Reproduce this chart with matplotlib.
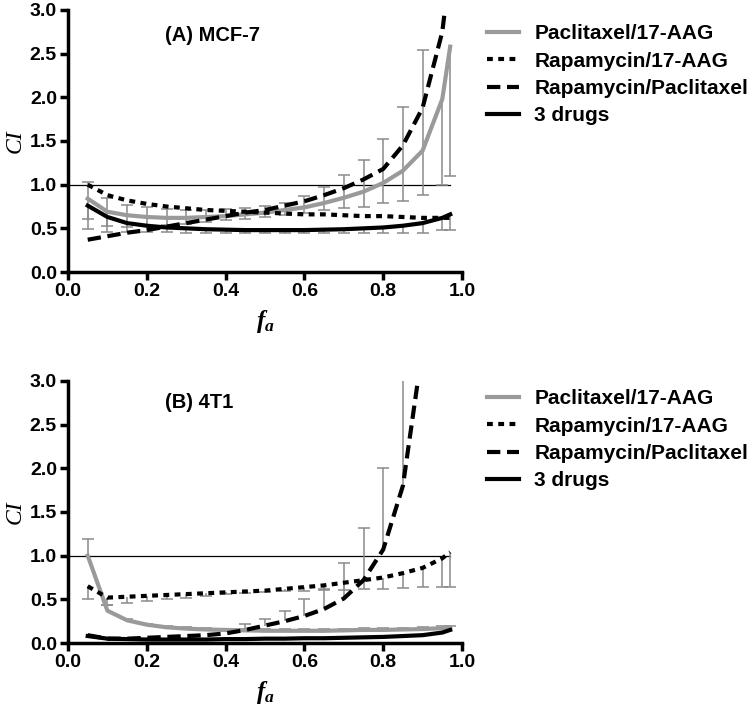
import numpy as np
import matplotlib
matplotlib.use('Agg')
import matplotlib.pyplot as plt

nan = np.nan

# fraction affected (x positions of all series)
fa = [0.05, 0.10, 0.15, 0.20, 0.25, 0.30, 0.35, 0.40, 0.45, 0.50,
      0.55, 0.60, 0.65, 0.70, 0.75, 0.80, 0.85, 0.90, 0.95, 0.97]

labels = ['Paclitaxel/17-AAG', 'Rapamycin/17-AAG', 'Rapamycin/Paclitaxel', '3 drugs']

# (A) MCF-7
a_pac17 = [0.84, 0.69, 0.65, 0.63, 0.62, 0.62, 0.63, 0.64, 0.66, 0.68,
           0.71, 0.74, 0.79, 0.85, 0.92, 1.02, 1.16, 1.39, 1.98, 2.58]
a_pac17_hi = [1.03, 0.85, 0.77, 0.74, 0.72, 0.71, 0.71, 0.72, 0.73, 0.76,
              0.79, 0.87, 0.97, 1.11, 1.28, 1.52, 1.89, 2.54, nan, nan]
a_pac17_lo = [0.61, 0.53, 0.52, 0.53, 0.54, 0.55, 0.57, 0.59, 0.61, 0.63,
              0.65, 0.68, 0.71, 0.73, 0.75, 0.79, 0.81, 0.88, 1.00, 1.10]
a_rap17 = [1.00, 0.88, 0.82, 0.78, 0.75, 0.73, 0.71, 0.70, 0.69, 0.68,
           0.67, 0.66, 0.66, 0.65, 0.64, 0.64, 0.63, 0.62, 0.62, 0.62]
a_rappac = [0.37, 0.41, 0.45, 0.48, 0.52, 0.56, 0.60, 0.64, 0.68, 0.71,
            0.76, 0.81, 0.88, 0.96, 1.06, 1.18, 1.45, 1.88, 2.75, 3.50]
a_3drug = [0.76, 0.63, 0.56, 0.53, 0.51, 0.50, 0.49, 0.485, 0.48, 0.48,
           0.48, 0.48, 0.485, 0.49, 0.50, 0.51, 0.53, 0.56, 0.62, 0.66]
a_3drug_lo = [0.49, 0.46, 0.46, 0.46, 0.46, 0.45, 0.45, 0.45, 0.45, 0.45,
              0.45, 0.45, 0.45, 0.45, 0.45, 0.45, 0.45, 0.45, 0.48, 0.48]

# (B) 4T1
b_pac17 = [1.00, 0.37, 0.26, 0.21, 0.18, 0.165, 0.155, 0.15, 0.145, 0.14,
           0.14, 0.14, 0.14, 0.145, 0.15, 0.15, 0.155, 0.16, 0.17, 0.18]
b_pac17_hi = [1.19, 0.43, 0.28, 0.22, 0.19, 0.18, 0.17, 0.16, 0.16, 0.16,
              0.16, 0.16, 0.16, 0.16, 0.17, 0.17, 0.17, 0.18, 0.19, 0.20]
b_rap17 = [0.65, 0.52, 0.53, 0.54, 0.55, 0.56, 0.57, 0.58, 0.59, 0.60,
           0.62, 0.64, 0.66, 0.69, 0.72, 0.75, 0.80, 0.86, 0.97, 1.04]
b_rap17_lo = [0.50, 0.44, 0.46, 0.48, 0.50, 0.52, 0.54, 0.56, 0.57, 0.58,
              0.59, 0.60, 0.61, 0.61, 0.62, 0.62, 0.63, 0.64, 0.64, 0.64]
b_rappac = [0.09, 0.05, 0.05, 0.06, 0.07, 0.08, 0.09, 0.11, 0.15, 0.20,
            0.25, 0.31, 0.39, 0.51, 0.72, 1.07, 1.80, 3.38, 6.00, 8.00]
b_rappac_hi = [nan, nan, nan, nan, nan, nan, nan, nan, 0.22, 0.28,
               0.37, 0.50, 0.62, 0.92, 1.32, 2.00, 5.00, nan, nan, nan]
b_3drug = [0.08, 0.05, 0.045, 0.04, 0.04, 0.04, 0.04, 0.045, 0.045, 0.05,
           0.05, 0.055, 0.055, 0.06, 0.065, 0.07, 0.08, 0.09, 0.12, 0.15]

plt.rcParams['font.family'] = ['Liberation Sans', 'DejaVu Sans']
plt.rcParams['font.weight'] = 'bold'
plt.rcParams['mathtext.fontset'] = 'custom'
plt.rcParams['mathtext.it'] = 'Liberation Serif:italic'
plt.rcParams['mathtext.rm'] = 'Liberation Serif'

GRAY = '#9a9a9a'
ERR = '#8a8a8a'


def err_bars(ax, x, y, ends):
    # one-sided error bars drawn from the curve to the given end value
    x = np.asarray(x)
    y = np.asarray(y, dtype=float)
    ends = np.asarray(ends, dtype=float)
    ok = ~np.isnan(ends)
    ax.vlines(x[ok], y[ok], ends[ok], color=ERR, lw=1.1, zorder=2)
    ax.plot(x[ok], ends[ok], ls='none', marker='_', ms=9, mew=1.1, color=ERR, zorder=2)


def draw_panel(ax, title, title_y, pac17, rap17, rappac, drug3):
    ax.plot([0, fa[-1]], [1, 1], color='black', lw=0.9, zorder=1)
    ax.plot(fa, pac17, color=GRAY, lw=3, label=labels[0], zorder=3)
    ax.plot(fa, rap17, color='black', lw=3, dashes=(1.4, 1.3), label=labels[1], zorder=4)
    ax.plot(fa, rappac, color='black', lw=3, dashes=(3.2, 1.6), label=labels[2], zorder=4)
    ax.plot(fa, drug3, color='black', lw=3, label=labels[3], zorder=4)

    ax.set_xlim(0, 1.0)
    ax.set_ylim(0, 3.0)
    ax.set_xticks([0, 0.2, 0.4, 0.6, 0.8, 1.0])
    ax.set_yticks([0, 0.5, 1.0, 1.5, 2.0, 2.5, 3.0])
    ax.xaxis.set_major_formatter(matplotlib.ticker.FormatStrFormatter('%.1f'))
    ax.yaxis.set_major_formatter(matplotlib.ticker.FormatStrFormatter('%.1f'))
    ax.tick_params(direction='out', length=6, width=2.5, labelsize=14, pad=2)
    for lab in ax.get_xticklabels() + ax.get_yticklabels():
        lab.set_fontweight('bold')
    for side in ['top', 'right']:
        ax.spines[side].set_visible(False)
    for side in ['left', 'bottom']:
        ax.spines[side].set_linewidth(2.5)
    ax.set_ylabel('CI', family='Liberation Serif', style='italic', fontweight='normal',
                  fontsize=17, labelpad=3)
    ax.set_xlabel('$f_a$', fontsize=18, fontweight='normal', labelpad=6)
    ax.text(0.246, title_y, title, fontsize=14.5, fontweight='bold', va='center', ha='left')


fig = plt.figure(figsize=(7.5, 7.11), dpi=100)
ax1 = fig.add_axes([0.0907, 0.6174, 0.5253, 0.3686])
ax2 = fig.add_axes([0.0907, 0.0956, 0.5253, 0.3686])

draw_panel(ax1, '(A) MCF-7', 2.71, a_pac17, a_rap17, a_rappac, a_3drug)
err_bars(ax1, fa, a_pac17, a_pac17_hi)
err_bars(ax1, fa, a_pac17, a_pac17_lo)
err_bars(ax1, fa, a_3drug, a_3drug_lo)

draw_panel(ax2, '(B) 4T1', 2.75, b_pac17, b_rap17, b_rappac, b_3drug)
err_bars(ax2, fa, b_pac17, b_pac17_hi)
err_bars(ax2, fa, b_rap17, b_rap17_lo)
err_bars(ax2, fa, b_rappac, b_rappac_hi)

for ax, top in [(ax1, 14), (ax2, 379)]:
    ax.legend(loc='upper left', bbox_to_anchor=(477 / 750, 1 - top / 711),
              bbox_transform=fig.transFigure, frameon=False, borderpad=0,
              handlelength=1.5, handletextpad=0.75, labelspacing=0.4,
              prop={'size': 15, 'weight': 'bold'})

fig.savefig('out.png', dpi=100)
